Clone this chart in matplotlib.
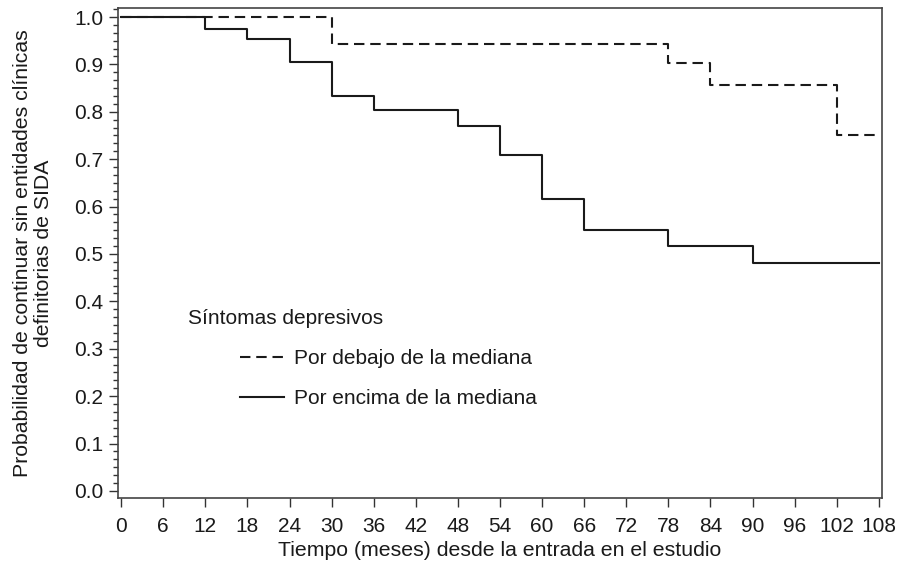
import matplotlib.pyplot as plt
from matplotlib.ticker import MultipleLocator, AutoMinorLocator

plt.rcParams['font.family'] = ['Liberation Sans', 'DejaVu Sans']

# Kaplan-Meier steps (time in months, survival probability)
t_below = [0, 30, 78, 84, 102, 108]
s_below = [1.0, 0.944, 0.902, 0.857, 0.752, 0.752]

t_above = [0, 12, 18, 24, 30, 36, 48, 54, 60, 66, 78, 90, 108]
s_above = [1.0, 0.975, 0.953, 0.906, 0.833, 0.803, 0.771, 0.709, 0.617, 0.551, 0.516, 0.480, 0.480]

lab_below = 'Por debajo de la mediana'
lab_above = 'Por encima de la mediana'
legend_title = 'Síntomas depresivos'

ink = '#1a1a1a'
fs = 15

fig = plt.figure(figsize=(8.99, 5.69), dpi=100)
ax = fig.add_axes([118 / 899, 71 / 569, 764 / 899, 490 / 569])

ax.step(t_below, s_below, where='post', color=ink, lw=1.5,
        linestyle=(0, (5, 2.8)), label=lab_below)
ax.step(t_above, s_above, where='post', color=ink, lw=1.5, label=lab_above)

ax.set_xlim(-0.45, 108.45)
ax.set_ylim(-0.015, 1.019)
ax.xaxis.set_major_locator(MultipleLocator(6))
ax.yaxis.set_major_locator(MultipleLocator(0.1))
ax.yaxis.set_minor_locator(AutoMinorLocator(6))
ax.yaxis.set_major_formatter(plt.FuncFormatter(lambda v, p: '%.1f' % v))

ax.tick_params(axis='both', which='major', length=6.5, width=1, color='#333333',
               labelsize=fs, labelcolor=ink)
ax.tick_params(axis='x', which='major', pad=7)
ax.tick_params(axis='y', which='major', pad=4)
ax.tick_params(axis='y', which='minor', length=3.5, width=1, color='#333333')
for sp in ax.spines.values():
    sp.set_color('#444444')
    sp.set_linewidth(1.2)

ax.set_xlabel('Tiempo (meses) desde la entrada en el estudio', fontsize=15.3,
              color=ink)
ax.xaxis.set_label_coords(0.5, -0.088)
ax.set_ylabel('Probabilidad de continuar sin entidades clínicas\ndefinitorias de SIDA',
              fontsize=15.3, color=ink, linespacing=1.15)
ax.yaxis.set_label_coords((53 - 118) / 764, 0.5)

ax.text((188 - 118) / 764, (498 - 318) / 490, legend_title, transform=ax.transAxes,
        fontsize=fs, color=ink, va='center', ha='left')

leg = ax.legend(loc='upper left', bbox_to_anchor=((232 - 118) / 764, (498 - 341) / 490),
                frameon=False, fontsize=fs, handlelength=2.08, handletextpad=0.52,
                labelspacing=1.0, borderaxespad=0)
for txt in leg.get_texts():
    txt.set_color(ink)

fig.savefig('out.png', dpi=100)
